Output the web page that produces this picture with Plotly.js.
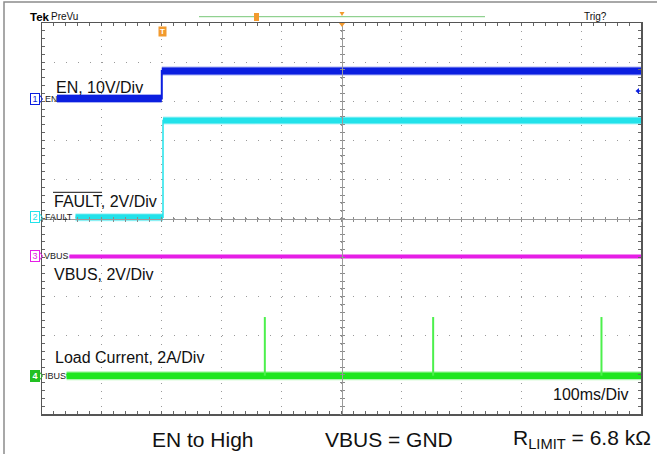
<!DOCTYPE html>
<html><head><meta charset="utf-8">
<script src="https://cdn.plot.ly/plotly-3.0.1.min.js"></script>
<style>html,body{margin:0;padding:0;background:#fff}</style>
</head><body><div id="chart" style="width:657px;height:454px"></div>
<script>
// ---- Data read from the scope capture (time in ms, 100 ms/div) ----
// EN (V), 10 V/div
const enTime = [25, 200, 200, 1000];
const enVolts = [0, 0, 7.0, 7.0];
// FAULT (V), 2 V/div
const faultTime = [56, 202, 202, 1000];
const faultVolts = [0, 0, 4.95, 4.95];
// VBUS (V), 2 V/div
const vbusTime = [46, 1000];
const vbusVolts = [0, 0];
// IBUS load current (A), 2 A/div
const ibusTime = [41, 1000];
const ibusAmps = [0, 0];
const spikeTime = [372, 653, 934];
const spikeAmps = [3.0, 3.0, 3.0];

// ---- channel settings (scale per div, ground position in divs) ----
const CH = {
  en:    {scale: 10, offset: 3.07,  color: '#0b1fe0'},
  fault: {scale: 2,  offset: 0.03,  color: '#22e2ea'},
  vbus:  {scale: 2,  offset: -0.97, color: '#e61ee6'},
  ibus:  {scale: 2,  offset: -4.02, color: '#1ee61e'}
};
const toDiv = (vals, ch) => vals.map(v => v === null ? null : ch.offset + v / ch.scale);

function horizontalSegments(t, y) {
  const xs = [], ys = [];
  for (let i = 0; i < t.length - 1; i++) {
    if (t[i] !== t[i + 1]) { xs.push(t[i], t[i + 1], null); ys.push(y[i], y[i + 1], null); }
  }
  return {x: xs, y: ys};
}

const traces = [];
function addSignal(t, vals, ch, core, fuzz, edgeW) {
  const yd = toDiv(vals, ch);
  const seg = horizontalSegments(t, yd);
  traces.push({x: seg.x, y: seg.y, mode: 'lines', line: {color: ch.color, width: fuzz}, opacity: 0.35, hoverinfo: 'skip', showlegend: false});
  traces.push({x: t, y: yd, mode: 'lines', line: {color: ch.color, width: edgeW}, hoverinfo: 'skip', showlegend: false});
  traces.push({x: seg.x, y: seg.y, mode: 'lines', line: {color: ch.color, width: core}, hoverinfo: 'skip', showlegend: false});
}

addSignal(ibusTime, ibusAmps, CH.ibus, 6.5, 9, 2);
// current spikes
const spX = [], spY = [];
spikeTime.forEach((t, i) => { spX.push(t, t, null); spY.push(0, spikeAmps[i], null); });
traces.push({x: spX, y: toDiv(spY, CH.ibus), mode: 'lines', line: {color: '#4cf04c', width: 2}, hoverinfo: 'skip', showlegend: false});
addSignal(vbusTime, vbusVolts, CH.vbus, 3.5, 5, 2);
addSignal(faultTime, faultVolts, CH.fault, 6, 8, 1.5);
addSignal(enTime, enVolts, CH.en, 7, 9, 2);

// empty traces on overlay axes (crosshair)
['x2','x3'].forEach(a => traces.push({x: [], y: [], xaxis: a, yaxis: 'y', showlegend: false, hoverinfo: 'skip'}));
['y2','y3'].forEach(a => traces.push({x: [], y: [], xaxis: 'x', yaxis: a, showlegend: false, hoverinfo: 'skip'}));

// ---- layout helpers (pixel -> paper) ----
const L = 42, R = 641, T = 23, B = 414;
const px = x => (x - L) / (R - L);
const py = y => (B - y) / (B - T);
const FONT = 'Liberation Sans, Arial, Helvetica, sans-serif';

function txt(text, x, y, size, opts) {
  return Object.assign({text: text, xref: 'paper', yref: 'paper', x: px(x), y: py(y), xanchor: 'left', yanchor: 'middle',
    showarrow: false, borderpad: 0, font: {family: FONT, size: size, color: '#111'}}, opts || {});
}

const annotations = [
  txt('EN, 10V/Div', 55, 88, 16),
  txt('FAULT, 2V/Div', 52.5, 201.7, 16),
  txt('VBUS, 2V/Div', 52.5, 274, 16),
  txt('Load Current, 2A/Div', 53.5, 357.5, 16),
  txt('100ms/Div', 552, 394.5, 16),
  txt('EN to High', 151, 439, 21),
  txt('VBUS = GND', 324, 439, 21),
  txt('R<sub>LIMIT</sub> = 6.8 kΩ', 512, 439, 21),
  txt('<b>Tek</b>', 29, 17, 11.5, {font: {family: FONT, size: 11.5, color: '#000'}}),
  txt('PreVu', 49.5, 17, 10),
  txt('Trig?', 583, 17, 10),
  // channel tags
  txt('1', 35, 99, 9, {xanchor: 'center', width: 8, height: 10, bordercolor: CH.en.color, borderwidth: 1, font: {family: FONT, size: 9, color: CH.en.color}}),
  txt('2', 35, 217.5, 9, {xanchor: 'center', width: 8, height: 10, bordercolor: CH.fault.color, borderwidth: 1, font: {family: FONT, size: 9, color: CH.fault.color}}),
  txt('3', 35, 256, 9, {xanchor: 'center', width: 8, height: 10, bordercolor: CH.vbus.color, borderwidth: 1, font: {family: FONT, size: 9, color: CH.vbus.color}}),
  txt('<b>4</b>', 35, 376, 9, {xanchor: 'center', width: 8, height: 10, bgcolor: '#22c022', bordercolor: '#22c022', borderwidth: 1, font: {family: FONT, size: 9, color: '#fff'}}),
  txt('EN', 44, 99, 9, {font: {family: FONT, size: 9, color: '#222'}}),
  txt('FAULT', 44, 217.5, 9, {font: {family: FONT, size: 9, color: '#222'}}),
  txt('VBUS', 43, 256, 9, {font: {family: FONT, size: 9, color: '#222'}}),
  txt('IBUS', 44, 376, 9, {font: {family: FONT, size: 9, color: '#222'}}),
  // trigger position marker
  txt('<b>T</b>', 162.7, 31.5, 8, {xanchor: 'center', width: 7, height: 9, bgcolor: '#f29a2e', font: {family: FONT, size: 8, color: '#fff'}})
];

// tag pointers (small chevrons after channel numbers)
const tagPointer = (yc, color) => ({type: 'path', xref: 'paper', yref: 'paper',
  path: `M${px(39.5)},${py(yc - 4)} L${px(42.5)},${py(yc)} L${px(39.5)},${py(yc + 4)}`,
  line: {color: color, width: 1}});

const shapes = [
  // outer frame of the capture
  {type: 'rect', xref: 'paper', yref: 'paper', x0: px(4), x1: px(700), y0: py(2), y1: py(520), line: {color: '#8c8c8c', width: 1.5}},
  // FAULT overline
  {type: 'line', xref: 'paper', yref: 'paper', x0: px(53), x1: px(102), y0: py(192.3), y1: py(192.3), line: {color: '#111', width: 1}},
  // record-length bar
  {type: 'line', xref: 'paper', yref: 'paper', x0: px(199), x1: px(485), y0: py(16.7), y1: py(16.7), line: {color: '#77c777', width: 1}},
  {type: 'rect', xref: 'paper', yref: 'paper', x0: px(254), x1: px(259), y0: py(13), y1: py(21), fillcolor: '#f29a2e', line: {width: 0}},
  {type: 'path', xref: 'paper', yref: 'paper', path: `M${px(339.5)},${py(12)} L${px(344.5)},${py(12)} L${px(342)},${py(16)} Z`, fillcolor: '#f29a2e', line: {width: 0}},
  {type: 'path', xref: 'paper', yref: 'paper', path: `M${px(339)},${py(23)} L${px(345)},${py(23)} L${px(342)},${py(27)} Z`, fillcolor: '#f29a2e', line: {width: 0}},
  // trigger level arrow
  {type: 'path', xref: 'paper', yref: 'paper', path: `M${px(635.5)},${py(91)} L${px(639)},${py(88)} L${px(639)},${py(94)} Z`, fillcolor: CH.en.color, line: {width: 0}},
  {type: 'line', xref: 'paper', yref: 'paper', x0: px(638), x1: px(640.5), y0: py(91), y1: py(91), line: {color: CH.en.color, width: 1.5}},
  tagPointer(99, CH.en.color),
  tagPointer(217.5, CH.fault.color),
  tagPointer(256, CH.vbus.color),
  tagPointer(376, '#22c022')
];

const baseAx = {showticklabels: false, zeroline: false, fixedrange: true};
const crossX = (ticks) => Object.assign({}, baseAx, {overlaying: 'x', anchor: 'free', position: 0.5, range: [0, 1000], autorange: false,
  showgrid: false, showline: true, linecolor: '#9a9a9a', linewidth: 1, ticks: ticks, ticklen: 2, tickcolor: '#8a8a8a', dtick: 20, tick0: 0});
const crossY = (ticks) => Object.assign({}, baseAx, {overlaying: 'y', anchor: 'free', position: 0.5, range: [-5, 5], autorange: false,
  showgrid: false, showline: true, linecolor: '#9a9a9a', linewidth: 1, ticks: ticks, ticklen: 2, tickcolor: '#8a8a8a', dtick: 0.2, tick0: 0});

const layout = {
  width: 657, height: 454,
  margin: {l: L, r: 657 - R, t: T, b: 454 - B, pad: 0},
  paper_bgcolor: '#fff', plot_bgcolor: '#fff',
  showlegend: false,
  font: {family: FONT},
  xaxis: Object.assign({}, baseAx, {range: [0, 1000], autorange: false, dtick: 100, tick0: 0,
    showgrid: true, gridcolor: '#9a9a9a', gridwidth: 1, griddash: '1px,6.82px',
    showline: true, mirror: 'allticks', linecolor: '#555', linewidth: 1.5,
    ticks: 'inside', ticklen: 3, tickcolor: '#666',
    minor: {dtick: 20, tick0: 0, ticks: 'inside', ticklen: 3, tickcolor: '#666', showgrid: false}}),
  yaxis: Object.assign({}, baseAx, {range: [-5, 5], autorange: false, dtick: 1, tick0: 0,
    showgrid: true, gridcolor: '#9a9a9a', gridwidth: 1, griddash: '1px,10.98px',
    showline: true, mirror: 'allticks', linecolor: '#555', linewidth: 1.5,
    ticks: 'inside', ticklen: 3, tickcolor: '#666',
    minor: {dtick: 0.2, tick0: 0, ticks: 'inside', ticklen: 3, tickcolor: '#666', showgrid: false}}),
  xaxis2: crossX('outside'),
  xaxis3: crossX('inside'),
  yaxis2: crossY('outside'),
  yaxis3: crossY('inside'),
  annotations: annotations,
  shapes: shapes
};

Plotly.newPlot('chart', traces, layout, {displayModeBar: false, staticPlot: true});
</script></body></html>
